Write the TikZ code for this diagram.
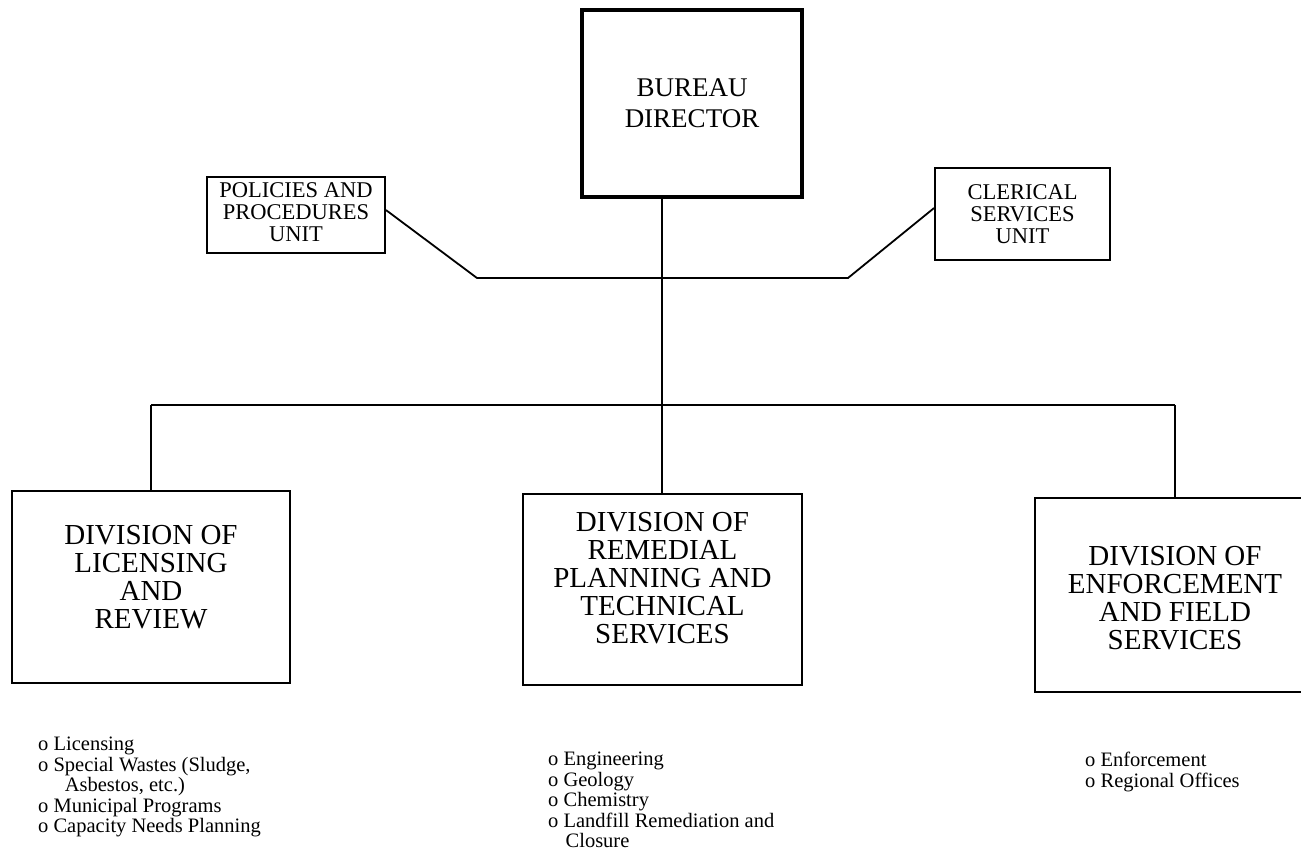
\documentclass[tikz,border=0pt]{standalone}
\usepackage{fontspec}
\setmainfont{Liberation Serif}
\begin{document}
\begin{tikzpicture}[x=1pt,y=-1pt,
  unitbox/.style={draw,line width=1.8pt,inner sep=0pt,align=center},
  link/.style={line width=1.8pt},
  bigtext/.style={font=\fontsize{29}{28}\selectfont},
  smalltext/.style={font=\fontsize{22.5}{22}\selectfont},
  listtext/.style={font=\fontsize{20.5}{20.5}\selectfont,align=left,anchor=north west,inner sep=0pt}]
\useasboundingbox (0,0) rectangle (1301,859);

% top level
\node[unitbox,line width=4pt,minimum width=220pt,minimum height=187pt] (bureau) at (692,103.5) {};
\node[font=\fontsize{27}{31}\selectfont,align=center] (bureauText) at (bureau.center) {BUREAU\\DIRECTOR};

% staff units
\node[unitbox,minimum width=178pt,minimum height=76pt] (policies) at (296,215) {};
\node[smalltext,align=center] (policiesText) at (296,212) {POLICIES AND\\PROCEDURES\\UNIT};
\node[unitbox,minimum width=175pt,minimum height=92pt,smalltext] (clerical) at (1022.5,214) {CLERICAL\\SERVICES\\UNIT};

% divisions
\node[unitbox,minimum width=278pt,minimum height=192pt] (licensing) at (151,587) {};
\node[bigtext,align=center] (licensingText) at (151,577) {DIVISION OF\\LICENSING\\AND\\REVIEW};
\node[unitbox,minimum width=279pt,minimum height=191pt] (remedial) at (662.5,589.5) {};
\node[bigtext,align=center] (remedialText) at (662.5,578) {DIVISION OF\\REMEDIAL\\PLANNING AND\\TECHNICAL\\SERVICES};
\node[unitbox,minimum width=280pt,minimum height=194pt] (enforcement) at (1175,595) {};
\node[bigtext,align=center] (enforcementText) at (1175,598) {DIVISION OF\\ENFORCEMENT\\AND FIELD\\SERVICES};

% connector points
\coordinate (staffL) at (477,278);
\coordinate (staffR) at (848,278);
\coordinate (stem) at (662,278);
\coordinate (barL) at (151,405);
\coordinate (barM) at (662,405);
\coordinate (barR) at (1175,405);

% connectors
\draw[link] (policies.east |- 0,210) -- (staffL) -- (staffR) -- (clerical.west |- 0,208);
\draw[link] (bureau.south -| stem) -- (barM);
\draw[link] (barL) -- (barR);
\draw[link] (barL) -- (licensing.north -| barL);
\draw[link] (barM) -- (remedial.north -| barM);
\draw[link] (barR) -- (enforcement.north -| barR);

% functions of each division
\node[listtext] (licList) at (38,737) {o Licensing\\o Special Wastes (Sludge,\\\hspace*{1.3em}Asbestos, etc.)\\o Municipal Programs\\o Capacity Needs Planning};
\node[listtext] (remList) at (548,752) {o Engineering\\o Geology\\o Chemistry\\o Landfill Remediation and\\\hspace*{0.85em}Closure};
\node[listtext] (enfList) at (1085,752) {o Enforcement\\o Regional Offices};
\end{tikzpicture}
\end{document}
